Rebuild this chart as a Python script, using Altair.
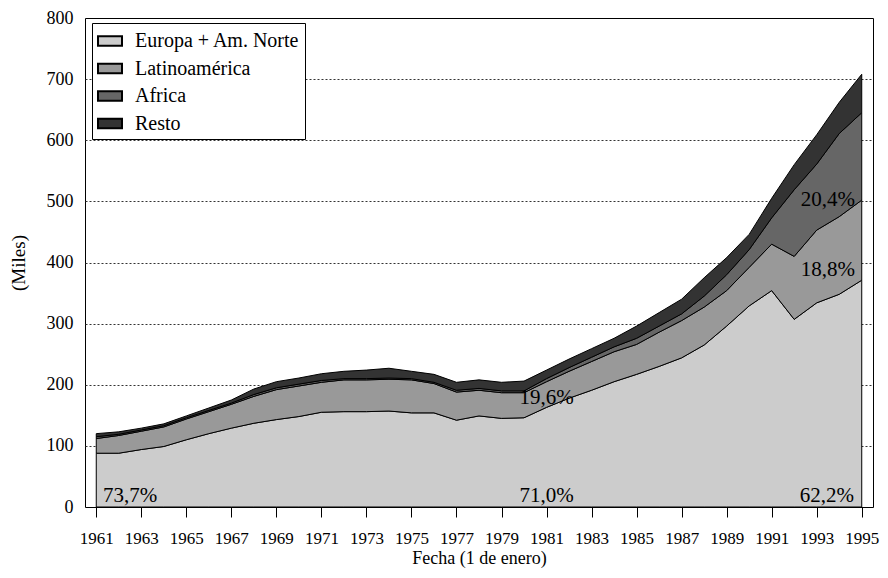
import altair as alt
import pandas as pd

years = list(range(1961, 1996))
series_names = ["Europa + Am. Norte", "Latinoamérica", "Africa", "Resto"]
series_colors = ["#cccccc", "#999999", "#666666", "#333333"]

europa = [88, 88, 94, 99, 110, 120, 129, 137, 143, 148,
          155, 156, 156, 157, 154, 154, 142, 149, 145, 146,
          163, 178, 191, 205, 217, 230, 244, 265, 296, 329,
          354, 307, 334, 348, 371]
latino = [24, 29, 30, 32, 34, 36, 39, 44, 49, 50,
          49, 52, 52, 52, 54, 48, 46, 42, 42, 41,
          42, 44, 47, 49, 49, 56, 61, 62, 58, 63,
          76, 103, 119, 127, 131]
africa = [3, 2, 2, 2, 2, 2, 2, 3, 3, 3,
          3, 2, 2, 2, 2, 2, 3, 3, 3, 3,
          5, 6, 7, 8, 10, 10, 11, 18, 26, 29,
          43, 109, 108, 136, 143]
resto = [5, 4, 3, 3, 3, 4, 5, 9, 10, 10,
         11, 12, 14, 16, 12, 13, 13, 14, 14, 16,
         14, 14, 14, 14, 20, 22, 24, 30, 28, 25,
         32, 41, 48, 51, 63]

ann_text = ["73,7%", "71,0%", "62,2%", "19,6%", "18,8%", "20,4%"]
ann_year = [1962.5, 1981.0, 1993.45, 1981.0, 1993.5, 1993.5]
ann_value = [8, 8, 8, 168, 378, 493]

y_ticks = list(range(0, 801, 100))

rows = []
for idx, (name, vals) in enumerate(zip(series_names, [europa, latino, africa, resto])):
    for yr, v in zip(years, vals):
        rows.append({"year": yr, "series": name, "value": v, "idx": idx})
df = pd.DataFrame(rows)
ann = pd.DataFrame({"label": ann_text, "year": ann_year, "value": ann_value})

FONT = "Liberation Serif"

x_scale = alt.Scale(domain=[1960.5, 1995.5], nice=False, zero=False)
y_scale = alt.Scale(domain=[0, 800], nice=False)

area = alt.Chart(df).mark_area(
    stroke="black", strokeWidth=1, opacity=1, interpolate="linear"
).encode(
    x=alt.X("year:Q", scale=x_scale,
            axis=alt.Axis(values=years,
                          labelExpr="datum.value % 2 == 1 ? '' + datum.value : ''",
                          title="Fecha (1 de enero)", grid=False, domain=False,
                          tickSize=10, tickColor="black", tickWidth=1,
                          labelOverlap=False, labelFlush=False,
                          labelFontSize=17, labelPadding=13,
                          titleFontSize=18, titlePadding=3)),
    y=alt.Y("value:Q", stack="zero", scale=y_scale,
            axis=alt.Axis(values=y_ticks, title="(Miles)", ticks=False, domain=False,
                          grid=True, gridDash=[2, 2], gridColor="#333333", gridWidth=1,
                          gridOpacity={"condition": {"test": "datum.value == 0 || datum.value == 800", "value": 0}, "value": 1},
                          labelFontSize=18, labelPadding=12,
                          titleFontSize=19, titlePadding=18)),
    color=alt.Color("series:N", title=None,
                    scale=alt.Scale(domain=series_names, range=series_colors),
                    legend=alt.Legend(orient="none", legendX=7, legendY=5,
                                      fillColor="white", strokeColor="black",
                                      padding=5,
                                      symbolType="M-1,-0.4H1V0.4H-1Z", symbolSize=576,
                                      symbolStrokeColor="black", symbolStrokeWidth=2,
                                      symbolOpacity=1,
                                      labelFont=FONT, labelFontSize=20, labelColor="black",
                                      labelLimit=300, labelOffset=12, rowPadding=4.5)),
    order=alt.Order("idx:Q", sort="ascending"),
)

text = alt.Chart(ann).mark_text(
    font=FONT, fontSize=21, baseline="alphabetic", align="center", color="black"
).encode(
    x=alt.X("year:Q", scale=x_scale),
    y=alt.Y("value:Q", scale=y_scale),
    text="label:N",
)

chart = alt.layer(area, text).properties(
    width=788, height=489,
    autosize=alt.AutoSizeParams(type="none"),
    padding={"left": 77, "top": 10, "right": 7, "bottom": 63},
).configure_view(
    stroke="black", strokeWidth=1
).configure_axis(
    labelFont=FONT, titleFont=FONT, titleFontWeight="normal",
    labelColor="black", titleColor="black"
)

chart.save("out.html", embed_options={"renderer": "svg", "actions": False})
